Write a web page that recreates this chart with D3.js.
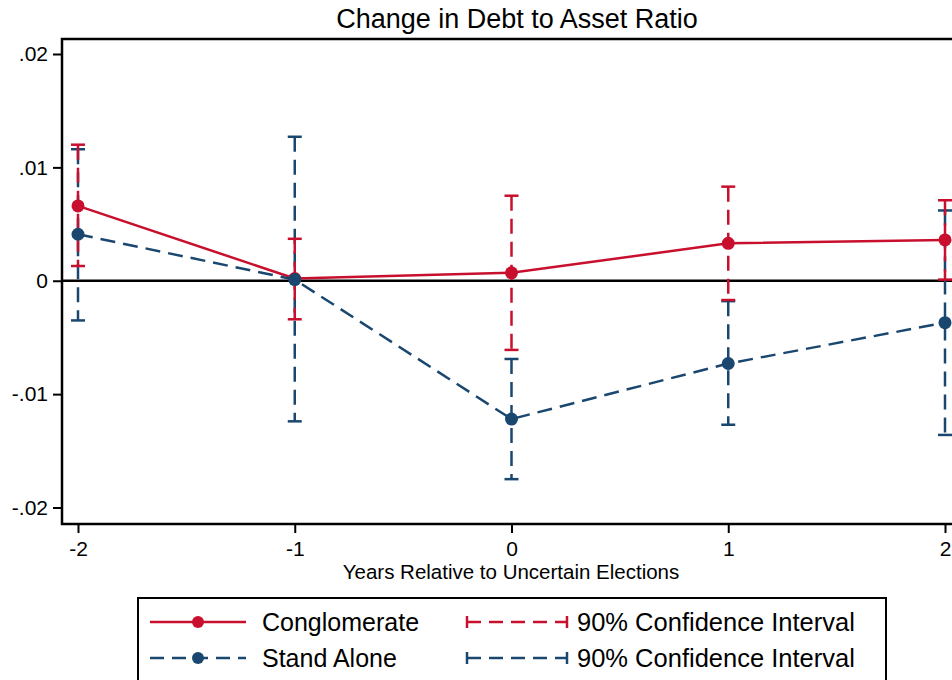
<!DOCTYPE html>
<html>
<head>
<meta charset="utf-8">
<script src="https://cdn.jsdelivr.net/npm/d3@7"></script>
<style>
  body { margin: 0; background: #fff; }
  text { font-family: "Liberation Sans", Arial, sans-serif; fill: #000; }
</style>
</head>
<body>
<div class="chart"></div>
<script>
  var years = [-2, -1, 0, 1, 2];
  var congloVals = [0.0066, 0.0002, 0.0007, 0.0033, 0.0036];
  var congloLow  = [0.0013, -0.0034, -0.0061, -0.0017, 0.0001];
  var congloHigh = [0.0120, 0.0037, 0.0075, 0.0083, 0.0071];
  var standVals = [0.0041, 0.0001, -0.0122, -0.0073, -0.0037];
  var standLow  = [-0.0035, -0.0124, -0.0175, -0.0127, -0.0136];
  var standHigh = [0.0116, 0.0127, -0.0069, -0.0018, 0.0062];
  var yTicks = [-0.02, -0.01, 0, 0.01, 0.02];
  var xTicks = [-2, -1, 0, 1, 2];

  var red = "#c8102e", navy = "#1a476f";

  var width = 952, height = 680;
  var frame = {left: 62, top: 39, bottom: 524, right: 990};

  var svg = d3.select(".chart").append("svg")
      .attr("width", width)
      .attr("height", height);

  var xScale = d3.scaleLinear().domain([-2, 2]).range([78, 945]);
  var yScale = d3.scaleLinear().domain([-0.02, 0.02]).range([507.5, 54]);

  function fmt(d) {
    if (d === 0) return "0";
    return (d < 0 ? "-" : "") + String(Math.abs(d)).replace(/^0/, "");
  }

  // title
  svg.append("text")
      .attr("x", 517).attr("y", 28)
      .attr("text-anchor", "middle")
      .style("font-size", "27px")
      .text("Change in Debt to Asset Ratio");

  // axes
  var yAxis = d3.axisLeft(yScale).tickValues(yTicks).tickFormat(fmt).tickSize(9).tickPadding(5);
  var gy = svg.append("g")
      .attr("transform", "translate(" + frame.left + ",0)")
      .call(yAxis);
  gy.select(".domain").remove();
  gy.selectAll("line").attr("stroke", "#000").attr("stroke-width", 2);
  gy.selectAll("text").style("font-size", "21px").attr("fill", "#000");

  var xAxis = d3.axisBottom(xScale).tickValues(xTicks).tickFormat(d3.format("d")).tickSize(9).tickPadding(8);
  var gx = svg.append("g")
      .attr("transform", "translate(0," + frame.bottom + ")")
      .call(xAxis);
  gx.select(".domain").remove();
  gx.selectAll("line").attr("stroke", "#000").attr("stroke-width", 2);
  gx.selectAll("text").style("font-size", "21px").attr("fill", "#000")
      .text(function(d) { return d < 0 ? "-" + Math.abs(d) : d; });

  svg.append("text")
      .attr("x", 511).attr("y", 579)
      .attr("text-anchor", "middle")
      .style("font-size", "20.5px")
      .text("Years Relative to Uncertain Elections");

  // frame
  svg.append("rect")
      .attr("x", frame.left).attr("y", frame.top)
      .attr("width", frame.right - frame.left)
      .attr("height", frame.bottom - frame.top)
      .attr("fill", "none").attr("stroke", "#000").attr("stroke-width", 2.5);

  // zero line
  svg.append("line")
      .attr("x1", frame.left).attr("x2", width)
      .attr("y1", yScale(0)).attr("y2", yScale(0))
      .attr("stroke", "#000").attr("stroke-width", 2.5);

  function drawCI(low, high, color) {
    var g = svg.append("g");
    years.forEach(function(yr, i) {
      var x = xScale(yr);
      g.append("line")
          .attr("x1", x).attr("x2", x)
          .attr("y1", yScale(high[i])).attr("y2", yScale(low[i]))
          .attr("stroke", color).attr("stroke-width", 2.5)
          .attr("stroke-dasharray", "15,8");
      [low[i], high[i]].forEach(function(v) {
        g.append("line")
            .attr("x1", x - 7).attr("x2", x + 7)
            .attr("y1", yScale(v)).attr("y2", yScale(v))
            .attr("stroke", color).attr("stroke-width", 2.5);
      });
    });
  }

  function drawSeries(vals, color, dash) {
    var line = d3.line()
        .x(function(d, i) { return xScale(years[i]); })
        .y(function(d) { return yScale(d); });
    svg.append("path")
        .datum(vals)
        .attr("d", line)
        .attr("fill", "none")
        .attr("stroke", color).attr("stroke-width", 2.5)
        .attr("stroke-dasharray", dash);
    svg.append("g").selectAll("circle")
        .data(vals)
        .enter().append("circle")
        .attr("cx", function(d, i) { return xScale(years[i]); })
        .attr("cy", function(d) { return yScale(d); })
        .attr("r", 6.5)
        .attr("fill", color);
  }

  drawCI(standLow, standHigh, navy);
  drawCI(congloLow, congloHigh, red);
  drawSeries(congloVals, red, null);
  drawSeries(standVals, navy, "15,8");

  // legend
  var lg = svg.append("g");
  lg.append("rect")
      .attr("x", 138).attr("y", 598)
      .attr("width", 748).attr("height", 100)
      .attr("fill", "#fff").attr("stroke", "#000").attr("stroke-width", 2);

  var legendItems = [
    {label: "Conglomerate", color: red, dash: null, y: 622},
    {label: "Stand Alone", color: navy, dash: "14,8", y: 658}
  ];
  legendItems.forEach(function(it) {
    lg.append("line")
        .attr("x1", 150).attr("x2", 246)
        .attr("y1", it.y).attr("y2", it.y)
        .attr("stroke", it.color).attr("stroke-width", 2.5)
        .attr("stroke-dasharray", it.dash);
    lg.append("circle")
        .attr("cx", 198).attr("cy", it.y).attr("r", 6)
        .attr("fill", it.color);
    lg.append("text")
        .attr("x", 262).attr("y", it.y + 9)
        .style("font-size", "25px")
        .text(it.label);

    lg.append("line")
        .attr("x1", 467).attr("x2", 567)
        .attr("y1", it.y).attr("y2", it.y)
        .attr("stroke", it.color).attr("stroke-width", 2.5)
        .attr("stroke-dasharray", "14,8");
    [467, 567].forEach(function(x) {
      lg.append("line")
          .attr("x1", x).attr("x2", x)
          .attr("y1", it.y - 6).attr("y2", it.y + 6)
          .attr("stroke", it.color).attr("stroke-width", 2.5);
    });
    lg.append("text")
        .attr("x", 577).attr("y", it.y + 9)
        .style("font-size", "25.5px")
        .text("90% Confidence Interval");
  });
</script>
</body>
</html>
